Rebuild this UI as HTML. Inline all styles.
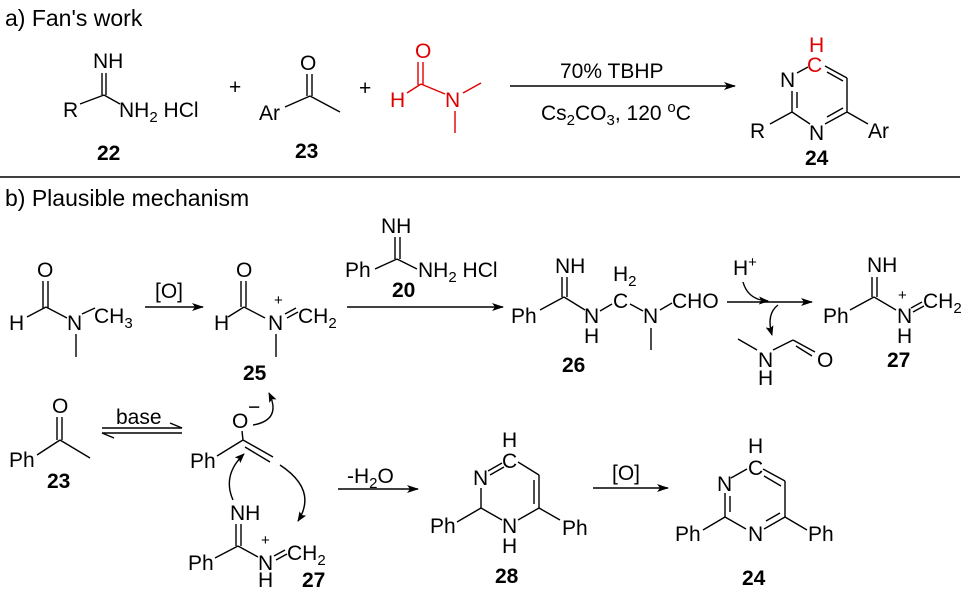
<!DOCTYPE html>
<html><head><meta charset="utf-8"><style>
body{margin:0;background:#fff}
svg{display:block}
text{font-family:"Liberation Sans",Arial,sans-serif;font-size:21px;fill:#000}
.t{font-size:23px}
.b{font-weight:bold}
.r{fill:#e00000}
.s{font-size:15px}
</style></head><body>
<svg width="973" height="597" viewBox="0 0 973 597" xmlns="http://www.w3.org/2000/svg">
<defs>
<marker id="ah" markerWidth="12" markerHeight="8" refX="11" refY="4" orient="auto" markerUnits="userSpaceOnUse"><path d="M0,0 L12,4 L0,8 L3,4Z" fill="#000"/></marker>
<marker id="ch" markerWidth="10" markerHeight="8" refX="9" refY="4" orient="auto" markerUnits="userSpaceOnUse"><path d="M0,0 L10,4 L0,8 L2,4Z" fill="#000"/></marker>
</defs>
<g stroke="#000" stroke-width="1.4" fill="none">
<line x1="102" y1="73" x2="102" y2="95"/><line x1="106" y1="73" x2="106" y2="95"/>
<line x1="80" y1="104" x2="104" y2="95"/><line x1="104" y1="95" x2="120" y2="104"/>
<line x1="307" y1="74" x2="307" y2="96"/><line x1="312" y1="74" x2="312" y2="96"/>
<line x1="285" y1="107" x2="310" y2="96"/><line x1="310" y1="96" x2="340" y2="112"/>
<line x1="510" y1="86" x2="735" y2="86" marker-end="url(#ah)"/>
<line x1="797" y1="73" x2="808" y2="67"/>
<line x1="825" y1="66" x2="847" y2="78"/><line x1="827" y1="72" x2="843" y2="81"/>
<line x1="847" y1="78" x2="847" y2="112"/>
<line x1="847" y1="112" x2="825" y2="124"/><line x1="843" y1="108" x2="827" y2="117"/>
<line x1="810" y1="124" x2="792" y2="112"/>
<line x1="792" y1="112" x2="792" y2="91"/><line x1="797" y1="108" x2="797" y2="92"/>
<line x1="792" y1="112" x2="770" y2="124"/><line x1="847" y1="112" x2="868" y2="124"/>
<line x1="0" y1="177" x2="960" y2="177"/>
<line x1="43" y1="281" x2="43" y2="308"/><line x1="48" y1="281" x2="48" y2="308"/>
<line x1="27" y1="317" x2="46" y2="307"/><line x1="46" y1="307" x2="67" y2="318"/>
<line x1="82" y1="314" x2="95" y2="308"/><line x1="76" y1="334" x2="76" y2="357"/>
<line x1="145" y1="307" x2="203" y2="307" marker-end="url(#ah)"/>
<line x1="241" y1="281" x2="241" y2="307"/><line x1="246" y1="281" x2="246" y2="307"/>
<line x1="228" y1="317" x2="244" y2="307"/><line x1="244" y1="307" x2="265" y2="318"/>
<line x1="285" y1="314" x2="296" y2="308"/><line x1="287" y1="318" x2="298" y2="312"/>
<line x1="276" y1="334" x2="276" y2="357"/>
<line x1="347" y1="307" x2="503" y2="307" marker-end="url(#ah)"/>
<line x1="395" y1="237" x2="395" y2="259"/><line x1="400" y1="237" x2="400" y2="259"/>
<line x1="375" y1="269" x2="397" y2="259"/><line x1="397" y1="259" x2="417" y2="269"/>
<line x1="562" y1="277" x2="562" y2="297"/><line x1="567" y1="277" x2="567" y2="297"/>
<line x1="540" y1="310" x2="564" y2="297"/><line x1="564" y1="297" x2="585" y2="310"/>
<line x1="600" y1="311" x2="612" y2="304"/><line x1="630" y1="304" x2="643" y2="311"/>
<line x1="660" y1="310" x2="672" y2="303"/><line x1="651" y1="328" x2="651" y2="350"/>
<line x1="727" y1="302" x2="812" y2="302" marker-end="url(#ah)"/>
<path d="M743,282 Q748,300 768,301" marker-end="url(#ch)"/>
<path d="M778,305 Q766,314 772,335" marker-end="url(#ch)"/>
<line x1="738" y1="339" x2="757" y2="350"/><line x1="773" y1="350" x2="793" y2="340"/>
<line x1="793" y1="340" x2="815" y2="352"/><line x1="796" y1="346" x2="812" y2="356"/>
<line x1="872" y1="277" x2="872" y2="297"/><line x1="877" y1="277" x2="877" y2="297"/>
<line x1="850" y1="310" x2="874" y2="297"/><line x1="874" y1="297" x2="896" y2="310"/>
<line x1="911" y1="308" x2="922" y2="302"/><line x1="913" y1="312" x2="924" y2="306"/>
<line x1="57" y1="417" x2="57" y2="440"/><line x1="62" y1="417" x2="62" y2="440"/>
<line x1="37" y1="455" x2="60" y2="440"/><line x1="60" y1="440" x2="90" y2="458"/>
<line x1="102" y1="428" x2="182" y2="428"/><line x1="182" y1="428" x2="170" y2="423"/>
<line x1="102" y1="433" x2="182" y2="433"/><line x1="102" y1="433" x2="114" y2="438"/>
<line x1="242" y1="431" x2="243" y2="440"/>
<line x1="217" y1="456" x2="243" y2="440"/>
<line x1="243" y1="440" x2="273" y2="457"/><line x1="245" y1="447" x2="270" y2="462"/>
<path d="M253,425 Q282,420 269,393" marker-end="url(#ch)"/>
<path d="M233,500 Q222,475 244,454" marker-end="url(#ch)"/>
<path d="M280,465 Q318,490 298,521" marker-end="url(#ch)"/>
<line x1="236" y1="524" x2="236" y2="546"/><line x1="241" y1="524" x2="241" y2="546"/>
<line x1="215" y1="558" x2="238" y2="546"/><line x1="238" y1="546" x2="258" y2="557"/>
<line x1="274" y1="556" x2="285" y2="550"/><line x1="276" y1="560" x2="287" y2="554"/>
<line x1="338" y1="489" x2="418" y2="489" marker-end="url(#ah)"/>
<line x1="488" y1="471" x2="502" y2="463"/><line x1="490" y1="475" x2="504" y2="467"/>
<line x1="518" y1="462" x2="539" y2="475"/>
<line x1="539" y1="475" x2="539" y2="508"/><line x1="534" y1="480" x2="534" y2="504"/>
<line x1="539" y1="508" x2="518" y2="520"/><line x1="539" y1="508" x2="560" y2="520"/>
<line x1="502" y1="520" x2="481" y2="508"/><line x1="481" y1="508" x2="481" y2="488"/>
<line x1="481" y1="508" x2="457" y2="522"/>
<line x1="593" y1="488" x2="668" y2="488" marker-end="url(#ah)"/>
<line x1="731" y1="478" x2="747" y2="469"/>
<line x1="763" y1="469" x2="785" y2="481"/><line x1="764" y1="476" x2="781" y2="486"/>
<line x1="785" y1="481" x2="785" y2="517"/>
<line x1="785" y1="517" x2="764" y2="529"/><line x1="780" y1="513" x2="766" y2="521"/>
<line x1="746" y1="529" x2="725" y2="517"/>
<line x1="725" y1="517" x2="725" y2="493"/><line x1="730" y1="512" x2="730" y2="496"/>
<line x1="725" y1="517" x2="703" y2="530"/><line x1="785" y1="517" x2="807" y2="530"/>
</g>
<g stroke="#e00000" stroke-width="1.4">
<line x1="418" y1="62" x2="418" y2="85"/><line x1="423" y1="62" x2="423" y2="85"/>
<line x1="407" y1="93" x2="421" y2="84"/><line x1="421" y1="84" x2="445" y2="94"/>
<line x1="463" y1="93" x2="481" y2="83"/><line x1="455" y1="111" x2="455" y2="133"/>
</g>
<text class="t" x="5" y="26">a) Fan's work</text>
<text x="93" y="68">NH</text><text x="63" y="117">R</text>
<text x="119" y="117">NH<tspan class="s" dy="5">2</tspan><tspan dy="-5"> HCl</tspan></text>
<text class="b" x="97" y="160">22</text>
<text x="229" y="94">+</text>
<text x="300" y="70">O</text><text x="259" y="120">Ar</text>
<text class="b" x="295" y="158">23</text>
<text x="359" y="95">+</text>
<text class="r" x="415" y="58">O</text><text class="r" x="390" y="107">H</text><text class="r" x="445" y="107">N</text>
<text x="560" y="78">70% TBHP</text>
<text x="541" y="120">Cs<tspan class="s" dy="5">2</tspan><tspan dy="-5">CO</tspan><tspan class="s" dy="5">3</tspan><tspan dy="-5">, 120 </tspan><tspan class="s" dy="-8">o</tspan><tspan dy="8">C</tspan></text>
<text class="r" x="809" y="52">H</text><text class="r" x="807" y="72">C</text>
<text x="780" y="87">N</text><text x="809" y="140">N</text>
<text x="750" y="138">R</text><text x="868" y="138">Ar</text>
<text class="b" x="805" y="165">24</text>
<text class="t" x="5" y="206">b) Plausible mechanism</text>
<text x="37" y="277">O</text><text x="9" y="330">H</text><text x="67" y="330">N</text>
<text x="94" y="323">CH<tspan class="s" dy="5">3</tspan></text>
<text x="155" y="298">[O]</text>
<text x="236" y="277">O</text><text x="214" y="330">H</text><text x="268" y="330">N</text>
<text class="s" x="274" y="305">+</text>
<text x="298" y="323">CH<tspan class="s" dy="5">2</tspan></text>
<text class="b" x="243" y="380">25</text>
<text x="381" y="233">NH</text><text x="345" y="277">Ph</text>
<text x="418" y="277">NH<tspan class="s" dy="5">2</tspan><tspan dy="-5"> HCl</tspan></text>
<text class="b" x="392" y="297">20</text>
<text x="555" y="273">NH</text><text x="511" y="323">Ph</text>
<text x="584" y="323">N</text><text x="584" y="343">H</text>
<text x="613" y="281">H<tspan class="s" dy="5">2</tspan></text>
<text x="613" y="308">C</text><text x="643" y="323">N</text><text x="672" y="308">CHO</text>
<text class="b" x="562" y="372">26</text>
<text x="733" y="275">H<tspan class="s" dy="-8">+</tspan></text>
<text x="758" y="367">N</text><text x="758" y="385">H</text><text x="817" y="367">O</text>
<text x="867" y="272">NH</text><text x="823" y="323">Ph</text>
<text x="897" y="323">N</text><text x="897" y="343">H</text><text class="s" x="898" y="300">+</text>
<text x="923" y="308">CH<tspan class="s" dy="5">2</tspan></text>
<text class="b" x="887" y="367">27</text>
<text x="52" y="413">O</text><text x="9" y="467">Ph</text>
<text class="b" x="47" y="488">23</text>
<text x="116" y="424">base</text>
<text x="232" y="428">O</text><text x="248" y="414">−</text>
<text x="190" y="468">Ph</text>
<text x="230" y="520">NH</text><text x="188" y="570">Ph</text>
<text x="258" y="570">N</text><text x="258" y="587">H</text><text class="s" x="261" y="545">+</text>
<text x="287" y="560">CH<tspan class="s" dy="5">2</tspan></text>
<text class="b" x="302" y="587">27</text>
<text x="347" y="483">-H<tspan class="s" dy="5">2</tspan><tspan dy="-5">O</tspan></text>
<text x="502" y="447">H</text><text x="502" y="468">C</text><text x="473" y="485">N</text>
<text x="430" y="533">Ph</text>
<text x="502" y="533">N</text><text x="502" y="553">H</text>
<text x="562" y="535">Ph</text>
<text class="b" x="495" y="583">28</text>
<text x="612" y="480">[O]</text>
<text x="748" y="453">H</text><text x="748" y="475">C</text><text x="717" y="491">N</text>
<text x="748" y="541">N</text><text x="675" y="541">Ph</text><text x="808" y="541">Ph</text>
<text class="b" x="742" y="585">24</text>
</svg>
</body></html>
